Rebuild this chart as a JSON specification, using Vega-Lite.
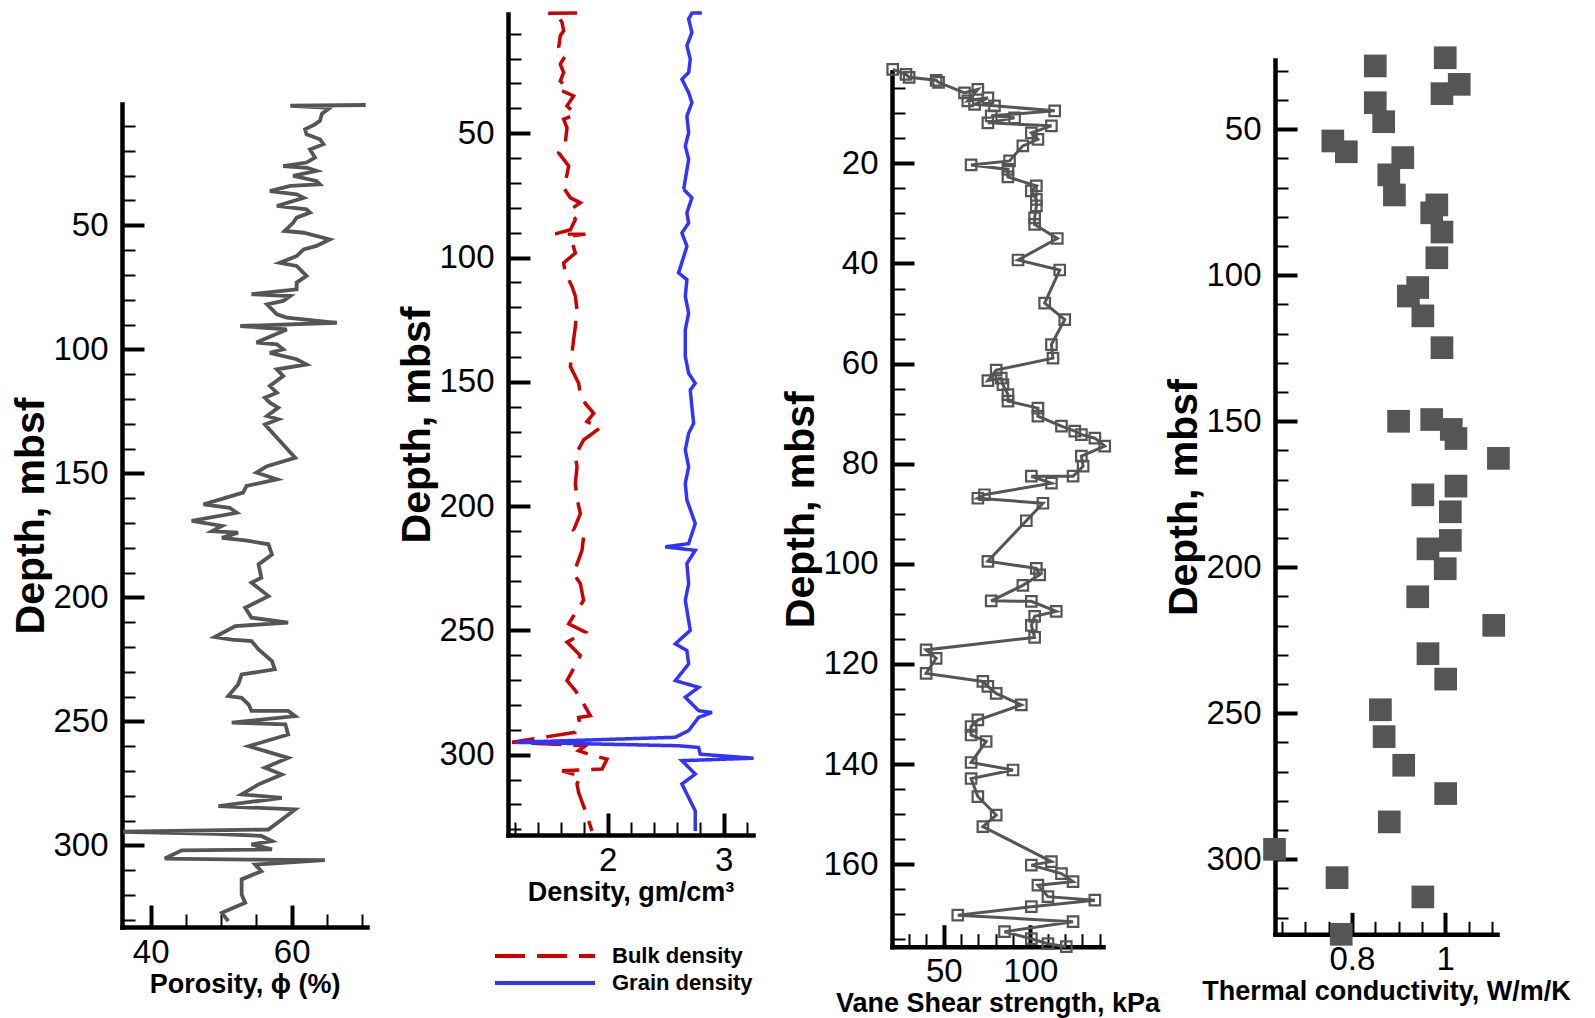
{
  "$schema": "https://vega.github.io/schema/vega-lite/v6.json",
  "padding": {"left": 10, "top": 5, "right": 5, "bottom": 5},
  "background": "white",
  "config": {
    "view": {"stroke": null},
    "axis": {"labelFont": "Liberation Sans", "labelFontSize": 33, "labelColor": "black", "titleFont": "Liberation Sans", "titleFontWeight": "bold", "titleColor": "black", "tickColor": "black", "domainColor": "black", "grid": false, "labelOverlap": false, "labelFlush": false},
    "axisY": {"titleFontSize": 41},
    "axisX": {"titleFontSize": 27}
  },
  "datasets": {
    "poro": [{"phi":70.5,"depth":1.5},{"phi":59.8,"depth":1.8},{"phi":65.4,"depth":2.7},{"phi":64.3,"depth":5.0},{"phi":64.0,"depth":7.9},{"phi":63.3,"depth":9.3},{"phi":61.9,"depth":11.3},{"phi":62.1,"depth":13.3},{"phi":64.0,"depth":15.3},{"phi":64.5,"depth":17.3},{"phi":62.6,"depth":19.4},{"phi":63.3,"depth":22.7},{"phi":62.1,"depth":24.7},{"phi":58.8,"depth":26.1},{"phi":62.1,"depth":26.8},{"phi":63.5,"depth":28.1},{"phi":60.2,"depth":30.1},{"phi":63.5,"depth":32.1},{"phi":64.0,"depth":33.5},{"phi":59.8,"depth":34.1},{"phi":56.9,"depth":36.2},{"phi":60.7,"depth":37.5},{"phi":61.7,"depth":38.9},{"phi":57.9,"depth":42.2},{"phi":62.1,"depth":43.6},{"phi":62.6,"depth":44.9},{"phi":60.7,"depth":46.9},{"phi":60.2,"depth":49.0},{"phi":59.0,"depth":52.3},{"phi":61.7,"depth":53.0},{"phi":65.4,"depth":55.7},{"phi":63.5,"depth":58.3},{"phi":61.7,"depth":59.7},{"phi":60.7,"depth":62.4},{"phi":58.3,"depth":65.1},{"phi":60.7,"depth":66.4},{"phi":62.1,"depth":70.4},{"phi":60.7,"depth":73.1},{"phi":60.7,"depth":75.8},{"phi":54.3,"depth":77.8},{"phi":59.8,"depth":78.5},{"phi":58.8,"depth":80.5},{"phi":56.5,"depth":81.9},{"phi":57.9,"depth":85.9},{"phi":59.3,"depth":87.2},{"phi":66.4,"depth":89.3},{"phi":52.7,"depth":90.6},{"phi":59.3,"depth":92.0},{"phi":55.0,"depth":97.3},{"phi":57.9,"depth":98.0},{"phi":58.8,"depth":100.0},{"phi":56.9,"depth":101.4},{"phi":60.7,"depth":104.0},{"phi":62.1,"depth":106.1},{"phi":57.9,"depth":108.1},{"phi":58.8,"depth":110.8},{"phi":56.9,"depth":114.8},{"phi":57.9,"depth":117.5},{"phi":56.2,"depth":119.5},{"phi":56.9,"depth":121.5},{"phi":58.1,"depth":123.5},{"phi":56.5,"depth":126.9},{"phi":58.1,"depth":128.2},{"phi":56.2,"depth":130.3},{"phi":60.5,"depth":143.7},{"phi":56.5,"depth":147.1},{"phi":55.0,"depth":149.7},{"phi":57.9,"depth":152.4},{"phi":53.6,"depth":155.1},{"phi":53.1,"depth":157.8},{"phi":47.5,"depth":162.5},{"phi":51.2,"depth":163.9},{"phi":52.2,"depth":165.9},{"phi":45.8,"depth":169.2},{"phi":50.1,"depth":171.2},{"phi":48.7,"depth":173.3},{"phi":52.4,"depth":173.9},{"phi":50.1,"depth":176.0},{"phi":53.4,"depth":177.0},{"phi":56.7,"depth":178.6},{"phi":57.2,"depth":182.7},{"phi":55.3,"depth":186.7},{"phi":55.7,"depth":192.1},{"phi":54.3,"depth":194.1},{"phi":56.7,"depth":199.5},{"phi":53.4,"depth":204.2},{"phi":54.3,"depth":208.2},{"phi":59.5,"depth":210.2},{"phi":52.0,"depth":211.6},{"phi":49.1,"depth":216.0},{"phi":51.5,"depth":217.0},{"phi":54.3,"depth":217.6},{"phi":55.3,"depth":221.0},{"phi":57.2,"depth":225.7},{"phi":57.6,"depth":229.0},{"phi":52.9,"depth":231.1},{"phi":52.4,"depth":235.1},{"phi":51.0,"depth":239.8},{"phi":52.9,"depth":240.5},{"phi":53.9,"depth":243.2},{"phi":54.3,"depth":245.8},{"phi":59.5,"depth":245.8},{"phi":60.5,"depth":247.9},{"phi":51.5,"depth":250.5},{"phi":59.1,"depth":251.2},{"phi":59.5,"depth":255.3},{"phi":53.9,"depth":260.0},{"phi":59.5,"depth":264.7},{"phi":56.2,"depth":268.7},{"phi":58.6,"depth":271.4},{"phi":55.3,"depth":275.4},{"phi":52.9,"depth":279.4},{"phi":58.6,"depth":280.8},{"phi":49.6,"depth":284.2},{"phi":60.5,"depth":285.5},{"phi":56.7,"depth":293.6},{"phi":36.1,"depth":294.5},{"phi":49.1,"depth":295.3},{"phi":55.7,"depth":296.2},{"phi":57.2,"depth":298.3},{"phi":54.3,"depth":299.6},{"phi":57.2,"depth":301.6},{"phi":44.4,"depth":302.0},{"phi":42.0,"depth":305.3},{"phi":53.9,"depth":305.7},{"phi":64.7,"depth":305.9},{"phi":54.8,"depth":307.7},{"phi":55.7,"depth":310.4},{"phi":52.9,"depth":313.7},{"phi":52.9,"depth":319.8},{"phi":53.4,"depth":323.1},{"phi":50.1,"depth":327.2},{"phi":51.0,"depth":330.5}],
    "dens": [
      {"type":"Bulk density","rho":1.736,"depth":1.6},{"type":"Bulk density","rho":1.49,"depth":1.7},{"type":"Bulk density","rho":1.578,"depth":3.4},{"type":"Bulk density","rho":1.607,"depth":5.4},{"type":"Bulk density","rho":1.621,"depth":8.8},{"type":"Bulk density","rho":1.592,"depth":10.8},{"type":"Bulk density","rho":1.578,"depth":15.5},{"type":"Bulk density","rho":1.635,"depth":18.9},{"type":"Bulk density","rho":1.592,"depth":22.2},{"type":"Bulk density","rho":1.621,"depth":25.6},{"type":"Bulk density","rho":1.592,"depth":29.0},{"type":"Bulk density","rho":1.65,"depth":31.6},{"type":"Bulk density","rho":1.607,"depth":33.0},{"type":"Bulk density","rho":1.707,"depth":35.0},{"type":"Bulk density","rho":1.65,"depth":39.0},{"type":"Bulk density","rho":1.722,"depth":42.4},{"type":"Bulk density","rho":1.621,"depth":44.4},{"type":"Bulk density","rho":1.65,"depth":47.8},{"type":"Bulk density","rho":1.635,"depth":53.8},{"type":"Bulk density","rho":1.578,"depth":57.9},{"type":"Bulk density","rho":1.664,"depth":63.2},{"type":"Bulk density","rho":1.65,"depth":66.6},{"type":"Bulk density","rho":1.621,"depth":72.0},{"type":"Bulk density","rho":1.679,"depth":76.0},{"type":"Bulk density","rho":1.765,"depth":78.0},{"type":"Bulk density","rho":1.679,"depth":80.7},{"type":"Bulk density","rho":1.722,"depth":84.7},{"type":"Bulk density","rho":1.679,"depth":88.8},{"type":"Bulk density","rho":1.549,"depth":90.5},{"type":"Bulk density","rho":1.808,"depth":90.6},{"type":"Bulk density","rho":1.679,"depth":91.4},{"type":"Bulk density","rho":1.722,"depth":98.2},{"type":"Bulk density","rho":1.621,"depth":102.2},{"type":"Bulk density","rho":1.635,"depth":106.2},{"type":"Bulk density","rho":1.693,"depth":111.6},{"type":"Bulk density","rho":1.722,"depth":115.6},{"type":"Bulk density","rho":1.736,"depth":121.0},{"type":"Bulk density","rho":1.722,"depth":127.7},{"type":"Bulk density","rho":1.707,"depth":133.1},{"type":"Bulk density","rho":1.693,"depth":138.5},{"type":"Bulk density","rho":1.679,"depth":143.9},{"type":"Bulk density","rho":1.75,"depth":150.6},{"type":"Bulk density","rho":1.765,"depth":154.6},{"type":"Bulk density","rho":1.808,"depth":158.7},{"type":"Bulk density","rho":1.88,"depth":162.7},{"type":"Bulk density","rho":1.822,"depth":166.0},{"type":"Bulk density","rho":1.937,"depth":168.5},{"type":"Bulk density","rho":1.793,"depth":173.4},{"type":"Bulk density","rho":1.722,"depth":179.5},{"type":"Bulk density","rho":1.736,"depth":184.2},{"type":"Bulk density","rho":1.722,"depth":190.9},{"type":"Bulk density","rho":1.736,"depth":196.9},{"type":"Bulk density","rho":1.765,"depth":203.0},{"type":"Bulk density","rho":1.707,"depth":209.7},{"type":"Bulk density","rho":1.793,"depth":212.4},{"type":"Bulk density","rho":1.779,"depth":217.8},{"type":"Bulk density","rho":1.707,"depth":227.2},{"type":"Bulk density","rho":1.765,"depth":231.2},{"type":"Bulk density","rho":1.793,"depth":237.9},{"type":"Bulk density","rho":1.736,"depth":242.0},{"type":"Bulk density","rho":1.664,"depth":247.3},{"type":"Bulk density","rho":1.808,"depth":250.7},{"type":"Bulk density","rho":1.65,"depth":254.7},{"type":"Bulk density","rho":1.765,"depth":260.1},{"type":"Bulk density","rho":1.722,"depth":264.1},{"type":"Bulk density","rho":1.65,"depth":270.2},{"type":"Bulk density","rho":1.722,"depth":274.2},{"type":"Bulk density","rho":1.793,"depth":279.6},{"type":"Bulk density","rho":1.851,"depth":284.3},{"type":"Bulk density","rho":1.75,"depth":285.0},{"type":"Bulk density","rho":1.765,"depth":289.0},{"type":"Bulk density","rho":1.722,"depth":291.0},{"type":"Bulk density","rho":1.176,"depth":295.0},{"type":"Bulk density","rho":1.808,"depth":296.4},{"type":"Bulk density","rho":1.75,"depth":298.4},{"type":"Bulk density","rho":1.837,"depth":299.8},{"type":"Bulk density","rho":1.995,"depth":301.8},{"type":"Bulk density","rho":1.952,"depth":305.8},{"type":"Bulk density","rho":1.607,"depth":306.5},{"type":"Bulk density","rho":1.765,"depth":308.5},{"type":"Bulk density","rho":1.736,"depth":311.8},{"type":"Bulk density","rho":1.75,"depth":315.2},{"type":"Bulk density","rho":1.808,"depth":322.6},{"type":"Bulk density","rho":1.837,"depth":326.6},{"type":"Bulk density","rho":1.865,"depth":330.7},
      {"type":"Grain density","rho":2.813,"depth":1.6},{"type":"Grain density","rho":2.727,"depth":1.7},{"type":"Grain density","rho":2.699,"depth":4.1},{"type":"Grain density","rho":2.727,"depth":9.5},{"type":"Grain density","rho":2.684,"depth":14.8},{"type":"Grain density","rho":2.713,"depth":20.2},{"type":"Grain density","rho":2.699,"depth":25.6},{"type":"Grain density","rho":2.641,"depth":28.3},{"type":"Grain density","rho":2.699,"depth":33.7},{"type":"Grain density","rho":2.727,"depth":37.7},{"type":"Grain density","rho":2.684,"depth":43.1},{"type":"Grain density","rho":2.699,"depth":49.8},{"type":"Grain density","rho":2.67,"depth":55.2},{"type":"Grain density","rho":2.699,"depth":60.5},{"type":"Grain density","rho":2.656,"depth":72.6},{"type":"Grain density","rho":2.727,"depth":76.0},{"type":"Grain density","rho":2.684,"depth":82.0},{"type":"Grain density","rho":2.699,"depth":86.1},{"type":"Grain density","rho":2.641,"depth":90.1},{"type":"Grain density","rho":2.684,"depth":95.5},{"type":"Grain density","rho":2.612,"depth":106.2},{"type":"Grain density","rho":2.684,"depth":108.9},{"type":"Grain density","rho":2.67,"depth":115.6},{"type":"Grain density","rho":2.699,"depth":122.4},{"type":"Grain density","rho":2.67,"depth":129.1},{"type":"Grain density","rho":2.67,"depth":139.8},{"type":"Grain density","rho":2.699,"depth":146.6},{"type":"Grain density","rho":2.756,"depth":150.6},{"type":"Grain density","rho":2.713,"depth":153.3},{"type":"Grain density","rho":2.727,"depth":160.0},{"type":"Grain density","rho":2.742,"depth":166.7},{"type":"Grain density","rho":2.699,"depth":170.7},{"type":"Grain density","rho":2.67,"depth":177.4},{"type":"Grain density","rho":2.699,"depth":184.2},{"type":"Grain density","rho":2.67,"depth":190.9},{"type":"Grain density","rho":2.684,"depth":197.6},{"type":"Grain density","rho":2.756,"depth":207.0},{"type":"Grain density","rho":2.699,"depth":215.1},{"type":"Grain density","rho":2.497,"depth":216.4},{"type":"Grain density","rho":2.756,"depth":217.8},{"type":"Grain density","rho":2.684,"depth":223.1},{"type":"Grain density","rho":2.699,"depth":231.2},{"type":"Grain density","rho":2.67,"depth":237.9},{"type":"Grain density","rho":2.713,"depth":250.0},{"type":"Grain density","rho":2.584,"depth":255.4},{"type":"Grain density","rho":2.684,"depth":258.1},{"type":"Grain density","rho":2.699,"depth":263.5},{"type":"Grain density","rho":2.584,"depth":270.2},{"type":"Grain density","rho":2.785,"depth":272.9},{"type":"Grain density","rho":2.67,"depth":276.9},{"type":"Grain density","rho":2.785,"depth":282.3},{"type":"Grain density","rho":2.9,"depth":283.0},{"type":"Grain density","rho":2.785,"depth":285.0},{"type":"Grain density","rho":2.699,"depth":290.3},{"type":"Grain density","rho":2.584,"depth":293.0},{"type":"Grain density","rho":1.204,"depth":295.0},{"type":"Grain density","rho":2.612,"depth":296.4},{"type":"Grain density","rho":2.785,"depth":297.1},{"type":"Grain density","rho":2.799,"depth":299.8},{"type":"Grain density","rho":3.259,"depth":301.4},{"type":"Grain density","rho":2.641,"depth":302.4},{"type":"Grain density","rho":2.756,"depth":307.8},{"type":"Grain density","rho":2.641,"depth":311.8},{"type":"Grain density","rho":2.756,"depth":322.6},{"type":"Grain density","rho":2.756,"depth":330.7}
    ],
    "vane": [{"s":20.5,"depth":1.2},{"s":28.2,"depth":2.2},{"s":30.0,"depth":2.8},{"s":45.6,"depth":3.4},{"s":47.0,"depth":3.8},{"s":62.0,"depth":5.9},{"s":69.7,"depth":5.2},{"s":63.9,"depth":7.5},{"s":75.5,"depth":6.9},{"s":67.8,"depth":8.2},{"s":79.3,"depth":8.5},{"s":114.1,"depth":9.5},{"s":77.4,"depth":10.5},{"s":90.9,"depth":10.9},{"s":75.5,"depth":11.9},{"s":112.2,"depth":12.5},{"s":100.6,"depth":13.9},{"s":104.4,"depth":15.2},{"s":95.7,"depth":16.5},{"s":88.0,"depth":19.5},{"s":65.8,"depth":20.3},{"s":87.1,"depth":21.2},{"s":87.1,"depth":22.7},{"s":103.5,"depth":24.5},{"s":100.6,"depth":25.5},{"s":103.5,"depth":27.2},{"s":103.5,"depth":28.5},{"s":102.5,"depth":30.9},{"s":102.5,"depth":32.2},{"s":115.6,"depth":35.0},{"s":92.9,"depth":39.3},{"s":117.0,"depth":41.3},{"s":108.3,"depth":47.9},{"s":119.9,"depth":51.2},{"s":112.2,"depth":56.2},{"s":113.1,"depth":58.9},{"s":80.3,"depth":61.3},{"s":75.5,"depth":63.4},{"s":83.2,"depth":62.9},{"s":84.2,"depth":64.2},{"s":87.1,"depth":66.2},{"s":87.1,"depth":67.5},{"s":104.4,"depth":68.9},{"s":104.4,"depth":70.5},{"s":118.0,"depth":72.5},{"s":125.7,"depth":73.5},{"s":129.5,"depth":74.2},{"s":137.3,"depth":74.9},{"s":143.0,"depth":76.5},{"s":129.5,"depth":78.5},{"s":130.5,"depth":80.5},{"s":124.7,"depth":82.5},{"s":100.6,"depth":82.5},{"s":112.2,"depth":83.9},{"s":73.5,"depth":86.2},{"s":69.7,"depth":86.9},{"s":107.3,"depth":87.9},{"s":97.7,"depth":91.4},{"s":75.5,"depth":99.5},{"s":103.5,"depth":100.9},{"s":105.4,"depth":102.2},{"s":95.7,"depth":104.3},{"s":77.4,"depth":107.4},{"s":100.6,"depth":107.5},{"s":115.0,"depth":109.5},{"s":102.5,"depth":110.5},{"s":100.6,"depth":112.3},{"s":102.5,"depth":114.7},{"s":39.8,"depth":117.2},{"s":45.6,"depth":118.9},{"s":39.8,"depth":121.9},{"s":72.6,"depth":123.5},{"s":75.5,"depth":124.5},{"s":80.3,"depth":125.9},{"s":94.8,"depth":128.2},{"s":69.7,"depth":131.2},{"s":65.8,"depth":132.5},{"s":65.8,"depth":134.2},{"s":74.5,"depth":135.5},{"s":65.8,"depth":139.7},{"s":90.0,"depth":141.2},{"s":65.8,"depth":142.9},{"s":69.7,"depth":146.5},{"s":80.3,"depth":150.2},{"s":72.6,"depth":152.5},{"s":112.2,"depth":159.5},{"s":100.6,"depth":160.2},{"s":118.0,"depth":161.9},{"s":124.7,"depth":163.5},{"s":104.4,"depth":164.2},{"s":110.2,"depth":166.5},{"s":137.3,"depth":167.2},{"s":100.6,"depth":168.5},{"s":58.1,"depth":170.2},{"s":124.7,"depth":171.5},{"s":85.1,"depth":173.5},{"s":100.6,"depth":174.9},{"s":110.2,"depth":175.9},{"s":120.8,"depth":176.5}],
    "therm": [{"k":0.85,"depth":28.3},{"k":1.0,"depth":25.5},{"k":1.03,"depth":34.6},{"k":0.993,"depth":37.8},{"k":0.85,"depth":40.9},{"k":0.868,"depth":47.4},{"k":0.759,"depth":54.0},{"k":0.788,"depth":57.7},{"k":0.909,"depth":59.7},{"k":0.879,"depth":65.6},{"k":0.891,"depth":72.5},{"k":0.982,"depth":75.9},{"k":0.971,"depth":78.6},{"k":0.993,"depth":85.2},{"k":0.982,"depth":94.0},{"k":0.941,"depth":104.2},{"k":0.921,"depth":107.1},{"k":0.952,"depth":113.9},{"k":0.993,"depth":124.8},{"k":0.9,"depth":150.0},{"k":0.971,"depth":149.4},{"k":1.013,"depth":152.8},{"k":1.023,"depth":155.9},{"k":1.114,"depth":162.7},{"k":1.023,"depth":172.2},{"k":0.952,"depth":175.2},{"k":1.011,"depth":181.0},{"k":1.011,"depth":190.8},{"k":0.963,"depth":193.7},{"k":1.0,"depth":200.5},{"k":0.941,"depth":210.1},{"k":1.104,"depth":219.9},{"k":0.963,"depth":229.6},{"k":1.001,"depth":238.3},{"k":0.861,"depth":248.8},{"k":0.869,"depth":258.0},{"k":0.911,"depth":267.8},{"k":1.001,"depth":277.5},{"k":0.88,"depth":287.2},{"k":0.634,"depth":296.6},{"k":0.768,"depth":306.3},{"k":0.952,"depth":312.9},{"k":0.777,"depth":325.7}]
  },
  "hconcat": [
    {
      "width": 245, "height": 913,
      "data": {"name": "poro"},
      "layer": [
        {
          "mark": {"type": "line", "color": "#555555", "strokeWidth": 3.8, "clip": false},
          "encoding": {
            "x": {"field": "phi", "type": "quantitative", "scale": {"domain": [35.93, 70.68], "nice": false, "zero": false},
                  "axis": {"orient": "bottom", "values": [40, 60], "tickSize": -22, "tickWidth": 4, "domainWidth": 4.5, "domainCap": "square", "labelPadding": 31, "title": "Porosity, ϕ (%)", "titlePadding": 2}},
            "y": {"field": "depth", "type": "quantitative", "scale": {"domain": [1.1, 332.9], "range": [90, 913], "nice": false, "zero": false},
                  "axis": {"orient": "left", "values": [50, 100, 150, 200, 250, 300], "tickSize": -22, "tickWidth": 4, "domainWidth": 4.5, "domainCap": "square", "labelPadding": 36, "title": "Depth, mbsf", "titlePadding": 0}},
            "order": {"value": null}
          }
        },
        {
          "mark": {"type": "point", "opacity": 0},
          "encoding": {
            "x": {"field": "phi", "type": "quantitative", "axis": {"orient": "bottom", "values": [45, 50, 55, 65, 70], "tickSize": -13, "tickWidth": 2, "domain": false, "labels": false, "title": null}},
            "y": {"field": "depth", "type": "quantitative", "axis": {"orient": "left", "values": [10, 20, 30, 40, 60, 70, 80, 90, 110, 120, 130, 140, 160, 170, 180, 190, 210, 220, 230, 240, 260, 270, 280, 290, 310, 320, 330], "tickSize": -13, "tickWidth": 2, "domain": false, "labels": false, "title": null}}
          }
        }
      ],
      "resolve": {"axis": {"x": "independent", "y": "independent"}}
    },
    {"width": 140.7, "height": 1, "data": {"values": [{"a": 0}]}, "mark": {"type": "point", "opacity": 0}},
    {
      "width": 245, "height": 821,
      "data": {"name": "dens"},
      "layer": [
        {
          "mark": {"type": "line", "strokeWidth": 3.5, "clip": false},
          "encoding": {
            "x": {"field": "rho", "type": "quantitative", "scale": {"domain": [1.141, 3.254], "nice": false, "zero": false},
                  "axis": {"orient": "bottom", "values": [2, 3], "tickSize": -22, "tickWidth": 4, "domainWidth": 4.5, "domainCap": "square", "labelPadding": 31, "title": "Density, gm/cm³", "titlePadding": 2}},
            "y": {"field": "depth", "type": "quantitative", "scale": {"domain": [2.05, 332.3], "range": [0, 821], "nice": false, "zero": false},
                  "axis": {"orient": "left", "values": [50, 100, 150, 200, 250, 300], "tickSize": -22, "tickWidth": 4, "domainWidth": 4.5, "domainCap": "square", "labelPadding": 36, "title": "Depth, mbsf", "titlePadding": 0}},
            "color": {"field": "type", "type": "nominal", "scale": {"domain": ["Bulk density", "Grain density"], "range": ["#cc0000", "#3333ff"]},
                      "legend": {"orient": "none", "legendX": 371, "legendY": 929, "title": null, "padding": 0, "symbolType": "stroke", "symbolSize": 10000, "symbolStrokeWidth": 4, "clipHeight": 26, "rowPadding": 1, "labelFont": "Liberation Sans", "labelFontSize": 22, "labelFontWeight": "bold", "labelColor": "black", "labelOffset": 15}},
            "strokeDash": {"field": "type", "type": "nominal", "scale": {"domain": ["Bulk density", "Grain density"], "range": [[30, 12], [1, 0]]},
                      "legend": {"orient": "none", "legendX": 371, "legendY": 929, "title": null, "padding": 0, "symbolType": "stroke", "symbolSize": 10000, "symbolStrokeWidth": 4, "clipHeight": 26, "rowPadding": 1, "labelFont": "Liberation Sans", "labelFontSize": 22, "labelFontWeight": "bold", "labelColor": "black", "labelOffset": 15}},
            "order": {"value": null}
          }
        },
        {
          "mark": {"type": "point", "opacity": 0},
          "encoding": {
            "x": {"field": "rho", "type": "quantitative", "axis": {"orient": "bottom", "values": [1.2, 1.4, 1.6, 1.8, 2.2, 2.4, 2.6, 2.8, 3.2], "tickSize": -13, "tickWidth": 2, "domain": false, "labels": false, "title": null}},
            "y": {"field": "depth", "type": "quantitative", "axis": {"orient": "left", "values": [10, 20, 30, 40, 60, 70, 80, 90, 110, 120, 130, 140, 160, 170, 180, 190, 210, 220, 230, 240, 260, 270, 280, 290, 310, 320, 330], "tickSize": -13, "tickWidth": 2, "domain": false, "labels": false, "title": null}}
          }
        }
      ],
      "resolve": {"axis": {"x": "independent", "y": "independent"}}
    },
    {"width": 138.2, "height": 1, "data": {"values": [{"a": 0}]}, "mark": {"type": "point", "opacity": 0}},
    {
      "width": 211, "height": 932.7,
      "data": {"name": "vane"},
      "layer": [
        {
          "mark": {"type": "line", "color": "#555555", "strokeWidth": 3, "clip": false},
          "encoding": {
            "x": {"field": "s", "type": "quantitative", "scale": {"domain": [20.1, 142], "nice": false, "zero": false},
                  "axis": {"orient": "bottom", "values": [50, 100], "tickSize": -22, "tickWidth": 4, "domainWidth": 4.5, "domainCap": "square", "labelPadding": 31, "title": "Vane Shear strength, kPa", "titlePadding": 2}},
            "y": {"field": "depth", "type": "quantitative", "scale": {"domain": [1.68, 176.5], "range": [57.7, 932.7], "nice": false, "zero": false},
                  "axis": {"orient": "left", "values": [20, 40, 60, 80, 100, 120, 140, 160], "tickSize": -22, "tickWidth": 4, "domainWidth": 4.5, "domainCap": "square", "labelPadding": 36, "title": "Depth, mbsf", "titlePadding": 0}},
            "order": {"value": null}
          }
        },
        {
          "mark": {"type": "point", "shape": "square", "filled": false, "color": "#555555", "strokeWidth": 2.2, "size": 110, "opacity": 1, "clip": false},
          "encoding": {
            "x": {"field": "s", "type": "quantitative", "axis": {"orient": "bottom", "values": [30, 40, 60, 70, 80, 90, 110, 120, 130, 140], "tickSize": -13, "tickWidth": 2, "domain": false, "labels": false, "title": null}},
            "y": {"field": "depth", "type": "quantitative", "axis": {"orient": "left", "values": [5, 10, 15, 25, 30, 35, 45, 50, 55, 65, 70, 75, 85, 90, 95, 105, 110, 115, 125, 130, 135, 145, 150, 155, 165, 170, 175], "tickSize": -13, "tickWidth": 2, "domain": false, "labels": false, "title": null}}
          }
        }
      ],
      "resolve": {"axis": {"x": "independent", "y": "independent"}}
    },
    {"width": 171.3, "height": 1, "data": {"values": [{"a": 0}]}, "mark": {"type": "point", "opacity": 0}},
    {
      "width": 222, "height": 920.3,
      "data": {"name": "therm"},
      "layer": [
        {
          "mark": {"type": "point", "shape": "square", "filled": true, "color": "#555555", "size": 515, "opacity": 1, "clip": false},
          "encoding": {
            "x": {"field": "k", "type": "quantitative", "scale": {"domain": [0.635, 1.111], "nice": false, "zero": false},
                  "axis": {"orient": "bottom", "values": [0.8, 1], "format": "~g", "tickSize": -22, "tickWidth": 4, "domainWidth": 4.5, "domainCap": "square", "labelPadding": 31, "title": "Thermal conductivity, W/m/K", "titlePadding": 2}},
            "y": {"field": "depth", "type": "quantitative", "scale": {"domain": [26.27, 325.7], "range": [46, 920.3], "nice": false, "zero": false},
                  "axis": {"orient": "left", "values": [50, 100, 150, 200, 250, 300], "tickSize": -22, "tickWidth": 4, "domainWidth": 4.5, "domainCap": "square", "labelPadding": 36, "title": "Depth, mbsf", "titlePadding": 0}}
          }
        },
        {
          "mark": {"type": "point", "opacity": 0},
          "encoding": {
            "x": {"field": "k", "type": "quantitative", "axis": {"orient": "bottom", "values": [0.65, 0.7, 0.75, 0.85, 0.9, 0.95, 1.05, 1.1], "tickSize": -13, "tickWidth": 2, "domain": false, "labels": false, "title": null}},
            "y": {"field": "depth", "type": "quantitative", "axis": {"orient": "left", "values": [30, 40, 60, 70, 80, 90, 110, 120, 130, 140, 160, 170, 180, 190, 210, 220, 230, 240, 260, 270, 280, 290, 310, 320], "tickSize": -13, "tickWidth": 2, "domain": false, "labels": false, "title": null}}
          }
        }
      ],
      "resolve": {"axis": {"x": "independent", "y": "independent"}}
    }
  ],
  "spacing": 0,
  "bounds": "flush"
}
